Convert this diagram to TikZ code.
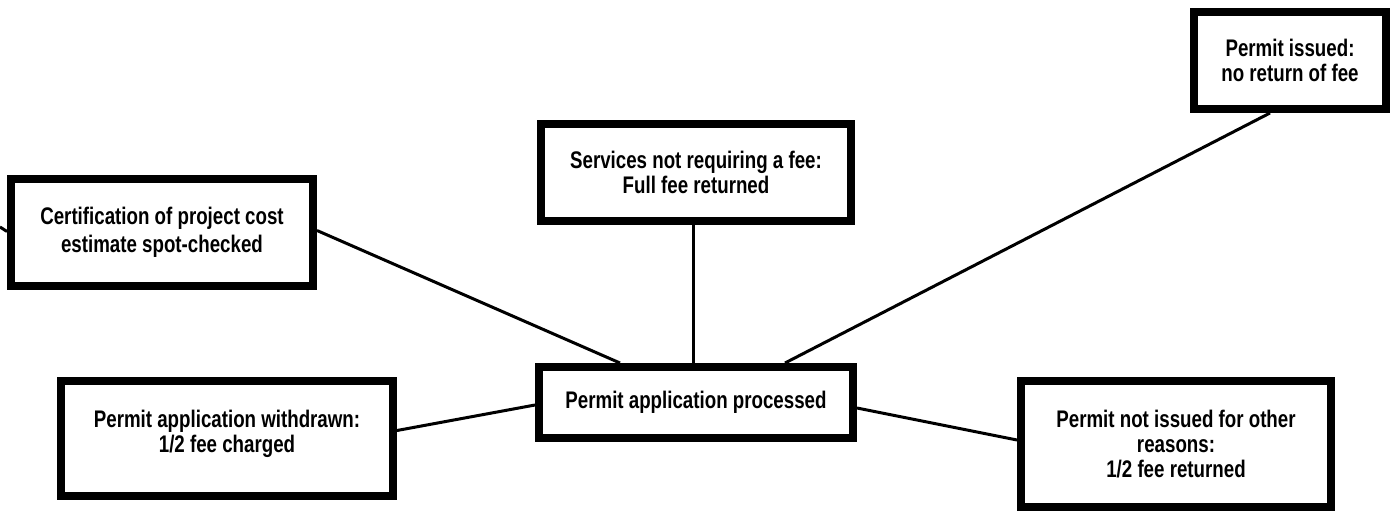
\documentclass[tikz,border=0pt]{standalone}
\usepackage{fontspec}
\setmainfont{Liberation Sans}[FakeStretch=0.78]

\begin{document}
\begin{tikzpicture}[x=1pt, y=-1pt, line width=3pt,
		box/.style={draw, line width=8pt, align=center, inner sep=0pt,
			font=\bfseries\fontsize{24}{25}\selectfont}]
		\useasboundingbox (0,0) rectangle (1392,511);

		% Boxes
		\node[box, minimum width=302pt, minimum height=107pt] (cert) at (162,232.5) {Certification of project cost\\[3pt]estimate spot-checked};
		\node[box, minimum width=310pt, minimum height=97pt] (services) at (696,172.5) {Services not requiring a fee:\\Full fee returned};
		\node[box, minimum width=192pt, minimum height=97pt] (issued) at (1290,60.5) {Permit issued:\\no return of fee};
		\node[box, minimum width=314pt, minimum height=71pt] (processed) at (696,402.5) {Permit application processed};
		\node[box, minimum width=332pt, minimum height=115pt] (withdrawn) at (227,438.5) {Permit application withdrawn:\\1/2 fee charged\\[-10pt]};
		\node[box, minimum width=310pt, minimum height=126pt] (notissued) at (1176,444) {Permit not issued for other\\reasons:\\1/2 fee returned};

		\coordinate (offleft) at (0,227); % line running off the page

		% Connectors
		\draw (offleft) -- ([yshift=1pt]cert.west);
		\draw ([yshift=2pt]cert.east) -- ([xshift=-76pt]processed.north);
		\draw ([xshift=-3pt]services.south) -- ([xshift=-3pt]processed.north);
		\draw ([xshift=-20pt]issued.south) -- ([xshift=89pt]processed.north);
		\draw ([yshift=8pt]withdrawn.east) -- ([yshift=-2.5pt]processed.west);
		\draw ([yshift=-5.5pt]processed.east) -- ([yshift=4pt]notissued.west);
	\end{tikzpicture}
\end{document}
